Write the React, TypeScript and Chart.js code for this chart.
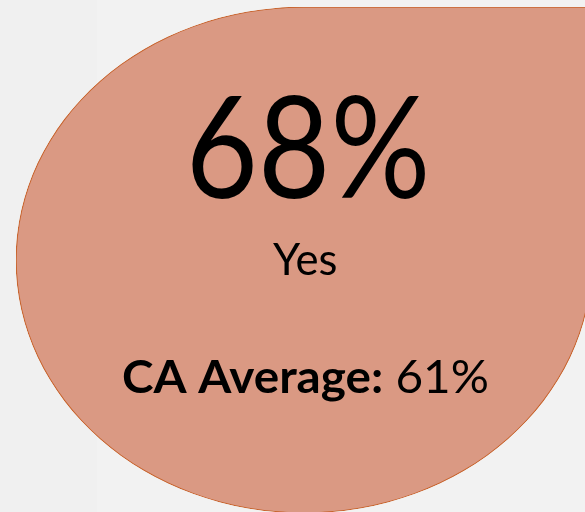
import React, { useEffect, useRef } from 'react';
import { Chart, registerables } from 'chart.js';

Chart.register(...registerables);

// ---- data ----
const categories = ['Yes'];
const values = [68];
const averageLabels = ['CA Average'];
const averageValues = [61];
const shapeRange: [number, number] = [0, 100]; // extent of the teardrop bar on its hidden scale

// ---- style ----
const FILL = '#DA9983';
const EDGE = '#C8652F';
const FONT = 'Lato, "Open Sans", sans-serif';

function drawInk(ctx: CanvasRenderingContext2D, text: string, font: string, left: number, baseline: number, inkWidth: number) {
  ctx.font = font;
  const m = ctx.measureText(text);
  const natural = m.actualBoundingBoxLeft + m.actualBoundingBoxRight;
  const s = inkWidth / natural;
  ctx.save();
  ctx.translate(left, baseline);
  ctx.scale(s, 1);
  ctx.textAlign = 'left';
  ctx.textBaseline = 'alphabetic';
  ctx.fillText(text, m.actualBoundingBoxLeft, 0);
  ctx.restore();
}

export default function App() {
  const ref = useRef<HTMLCanvasElement>(null);

  useEffect(() => {
    const canvas = ref.current!;
    const W = 600, H = 514;
    const BOX = { l: 16, r: 592, t: 7, b: 513 };
    const cx = (BOX.l + BOX.r) / 2;
    const half = (BOX.b - BOX.t) / 2;

    const stretch = {
      id: 'stretch',
      beforeDatasetsDraw(chart: any) {
        const { ctx, chartArea } = chart;
        const mid = (chartArea.left + chartArea.right) / 2;
        ctx.save();
        ctx.translate(mid, 0);
        ctx.scale((BOX.r - BOX.l) / (chartArea.right - chartArea.left), 1);
        ctx.translate(-mid, 0);
      },
      afterDatasetsDraw(chart: any) {
        chart.ctx.restore();
      },
    };

    const labels = {
      id: 'labels',
      afterDraw(chart: any) {
        const ctx: CanvasRenderingContext2D = chart.ctx;
        ctx.save();
        ctx.fillStyle = '#000';
        drawInk(ctx, `${values[0]}%`, `400 141px ${FONT}`, 192, 198, 233);
        drawInk(ctx, categories[0], `400 45px ${FONT}`, 273, 275, 63);

        // mixed bold / regular line
        const boldTxt = `${averageLabels[0]}:`;
        const regTxt = `${averageValues[0]}%`;
        const boldFont = `700 46px ${FONT}`;
        const regFont = `400 46px ${FONT}`;
        ctx.font = boldFont;
        const mb = ctx.measureText(boldTxt);
        ctx.font = regFont;
        const mr = ctx.measureText(regTxt);
        const gap = ctx.measureText(' ').width;
        const natural = mb.actualBoundingBoxLeft + mb.width + gap + mr.actualBoundingBoxRight;
        const s = 364 / natural;
        ctx.save();
        ctx.translate(123, 393);
        ctx.scale(s, 1);
        ctx.textAlign = 'left';
        ctx.textBaseline = 'alphabetic';
        ctx.font = boldFont;
        ctx.fillText(boldTxt, mb.actualBoundingBoxLeft, 0);
        ctx.font = regFont;
        ctx.fillText(regTxt, mb.actualBoundingBoxLeft + mb.width + gap, 0);
        ctx.restore();
        ctx.restore();
      },
    };

    const chart = new Chart(canvas, {
      type: 'bar',
      data: {
        labels: categories,
        datasets: [
          {
            data: [shapeRange] as any,
            backgroundColor: FILL,
            borderColor: EDGE,
            borderWidth: 1,
            borderSkipped: false,
            borderRadius: { topLeft: 1000, topRight: 0, bottomLeft: 1000, bottomRight: 1000 },
            barPercentage: 1,
            categoryPercentage: 1,
          } as any,
        ],
      },
      options: {
        responsive: false,
        animation: false,
        devicePixelRatio: 1,
        events: [],
        layout: {
          padding: { left: cx - half, right: W - (cx + half), top: BOX.t, bottom: H - BOX.b },
        },
        scales: {
          x: { display: false },
          y: { display: false, min: shapeRange[0], max: shapeRange[1] },
        },
        plugins: { legend: { display: false }, tooltip: { enabled: false } },
      },
      plugins: [stretch, labels],
    });
    return () => chart.destroy();
  }, []);

  return (
    <div style={{ position: 'fixed', left: 0, top: 0, width: 585, height: 512, overflow: 'hidden', background: '#f2f2f2' }}>
      <div style={{ position: 'absolute', left: 0, top: 0, width: 97, height: 512, background: '#f0f0f0' }} />
      <canvas ref={ref} width={600} height={514} style={{ position: 'absolute', left: 0, top: 0 }} />
    </div>
  );
}
